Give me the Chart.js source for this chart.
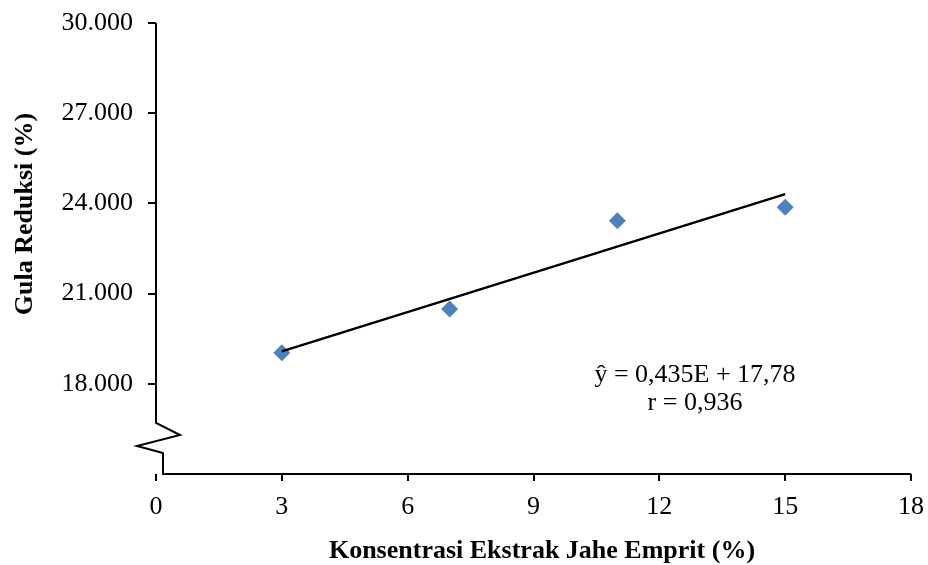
<!DOCTYPE html>
<html>
<head>
<meta charset="utf-8">
<script src="https://cdn.jsdelivr.net/npm/chart.js@4"></script>
<style>
  html, body { margin: 0; padding: 0; background: #fff; }
  #wrap { width: 928px; height: 565px; }
</style>
</head>
<body>
<div id="wrap"><canvas id="chart" width="928" height="565"></canvas></div>
<script>
// values
const concentrations = [3, 7, 11, 15]
const reducingSugar = [19.03, 20.49, 23.42, 23.87]
const trendX = [3, 15]
const trendY = [19.08, 24.31]
const xTicks = [0, 3, 6, 9, 12, 15, 18]
const yTicks = [18, 21, 24, 27, 30]
const equationLines = ['ŷ = 0,435E + 17,78', 'r = 0,936']
const xTitle = 'Konsentrasi Ekstrak Jahe Emprit (%)'
const yTitle = 'Gula Reduksi (%)'

const serif = '"Liberation Serif", "Times New Roman", serif'

// axis lines with the broken y axis, titles and regression text
const decorations = {
  id: 'decorations',
  afterDraw(chart) {
    const { ctx, chartArea, scales } = chart
    const left = chartArea.left
    const bottom = chartArea.bottom
    ctx.save()
    ctx.strokeStyle = '#000'
    ctx.lineWidth = 2
    ctx.lineJoin = 'miter'
    ctx.beginPath()
    ctx.moveTo(left, chartArea.top)
    ctx.lineTo(left, bottom - 51)
    ctx.lineTo(left + 24, bottom - 39)
    ctx.lineTo(left - 19, bottom - 28)
    ctx.lineTo(left + 7, bottom - 21)
    ctx.lineTo(left + 7, bottom)
    ctx.lineTo(chartArea.right, bottom)
    ctx.stroke()

    ctx.fillStyle = '#000'
    ctx.font = 'bold 26px ' + serif
    ctx.textAlign = 'center'
    ctx.textBaseline = 'middle'
    ctx.fillText(xTitle, 542, 551)

    ctx.save()
    ctx.translate(25, 214)
    ctx.rotate(-Math.PI / 2)
    ctx.fillText(yTitle, 0, 0)
    ctx.restore()

    ctx.font = '26px ' + serif
    const ex = scales.x.getPixelForValue(12.85)
    const ey = scales.y.getPixelForValue(18.28)
    equationLines.forEach((line, i) => {
      ctx.fillText(line, ex, ey + i * 28)
    })
    ctx.restore()
  }
}

new Chart(document.getElementById('chart'), {
  type: 'scatter',
  data: {
    datasets: [
      {
        label: 'Gula reduksi',
        data: concentrations.map((x, i) => ({ x, y: reducingSugar[i] })),
        backgroundColor: '#4F81BD',
        borderWidth: 0,
        pointStyle: 'rectRot',
        pointRadius: 8.5,
        pointHoverRadius: 8.5,
        order: 2,
      },
      {
        type: 'line',
        label: 'Trend',
        data: trendX.map((x, i) => ({ x, y: trendY[i] })),
        borderColor: '#000',
        borderWidth: 2.5,
        pointRadius: 0,
        fill: false,
        order: 1,
      },
    ],
  },
  options: {
    responsive: false,
    animation: false,
    events: [],
    layout: { padding: { top: 23, right: 17, left: 0, bottom: 0 } },
    plugins: {
      legend: { display: false },
      tooltip: { enabled: false },
    },
    scales: {
      x: {
        type: 'linear',
        min: 0,
        max: 18,
        afterBuildTicks: (axis) => { axis.ticks = xTicks.map((v) => ({ value: v })) },
        afterFit: (axis) => {
          axis.height = 91
          axis.paddingLeft = 0
          axis.paddingRight = 0
        },
        border: { display: false },
        grid: { drawOnChartArea: false, drawTicks: true, tickLength: 7, color: '#000', lineWidth: 2 },
        ticks: { color: '#000', padding: 11, font: { family: serif, size: 26 }, maxRotation: 0 },
      },
      y: {
        type: 'linear',
        min: 15,
        max: 30,
        afterBuildTicks: (axis) => { axis.ticks = yTicks.map((v) => ({ value: v })) },
        afterFit: (axis) => {
          axis.width = 156
          axis.paddingTop = 0
          axis.paddingBottom = 0
        },
        border: { display: false },
        grid: { drawOnChartArea: false, drawTicks: true, tickLength: 8, color: '#000', lineWidth: 2 },
        ticks: {
          color: '#000',
          padding: 15,
          font: { family: serif, size: 26 },
          callback: (v) => v + '.000',
        },
      },
    },
  },
  plugins: [decorations],
})
</script>
</body>
</html>
